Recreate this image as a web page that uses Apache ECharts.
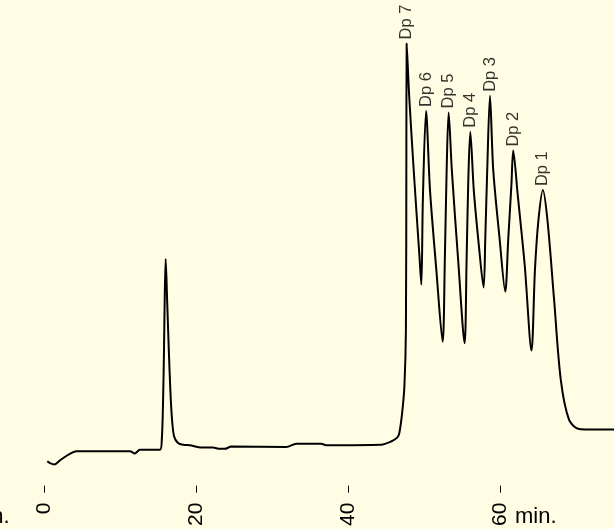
<!DOCTYPE html>
<html>
<head>
<meta charset="utf-8">
<script src="https://cdn.jsdelivr.net/npm/echarts@6/dist/echarts.min.js"></script>
<style>
html,body{margin:0;padding:0;background:#FFFDE4;}
#chart{width:614px;height:529px;}
</style>
</head>
<body>
<div id="chart"></div>
<script>
// retention time (min)
var times = [0.43,0.79,1.35,2.10,2.98,3.85,4.30,11.30,11.95,12.61,15.24,15.50,15.67,15.79,15.88,16.01,16.20,16.42,16.64,16.85,17.12,17.63,18.30,19.18,20.71,22.24,23.12,23.78,24.66,31.88,33.19,36.48,37.13,44.36,45.67,46.50,46.76,47.12,47.42,47.62,47.68,47.72,48.08,48.73,49.39,49.65,
49.85,50.27,50.79,51.62,52.45,
52.74,52.98,53.24,53.66,54.51,55.34,
55.60,55.83,56.09,56.55,57.21,57.84,
58.06,58.32,58.68,59.11,59.96,60.69,
61.08,61.50,61.74,62.33,63.25,64.14,
64.60,65.06,65.64,66.24,67.12,68.00,69.09,70.40,71.71,75.00];
// detector signal (arbitrary units)
var signal = [5.3,4.9,4.6,5.5,6.5,7.3,7.5,7.5,7.0,7.8,7.8,10.0,18.7,29.6,40.4,49.3,40.4,29.6,20.2,14.3,10.7,9.3,8.9,8.8,8.3,8.3,8.0,8.0,8.5,8.4,9.1,9.1,8.8,8.9,9.6,10.5,11.5,15.8,21.6,33.9,73.0,96.2,83.9,66.5,50.2,43.7,
62.2,81.5,64.3,47.0,31.3,
49.1,68.7,81.2,68.7,48.7,31.0,
48.7,66.5,77.0,64.3,52.4,43.1,
53.5,68.7,84.8,68.7,53.5,42.2,
53.5,65.4,72.9,63.3,48.0,29.4,
47.0,57.8,64.3,57.8,40.4,23.0,14.3,12.3,12.2,12.2];
// labelled peaks
var peakNames = ['Dp 7','Dp 6','Dp 5','Dp 4','Dp 3','Dp 2','Dp 1'];
var peakTimes = [47.72,50.27,53.24,56.09,58.68,61.74,65.64];
var peakValues = [96.2,81.5,81.2,77.0,84.8,72.9,64.3];
var xTicks = [0,20,40,60];
var unitLabel = 'min.';

var lineData = times.map(function(t,i){return [t, signal[i]];});
var peakData = peakTimes.map(function(t,i){return {name: peakNames[i], value:[t, peakValues[i]]};});

var chart = echarts.init(document.getElementById('chart'), null, {renderer:'canvas'});
chart.setOption({
  backgroundColor: '#FFFDE4',
  animation: false,
  grid: {left: 44, top: 26, width: 571, height: 460, containLabel: false},
  xAxis: {
    type: 'value', min: 0, max: 75, interval: 20,
    axisLine: {show: false},
    axisTick: {show: true, length: 7, lineStyle: {color: '#000', width: 1}},
    axisLabel: {show: true, rotate: 90, margin: 17, fontSize: 21, color: '#000',
      fontFamily: 'Liberation Sans, Arial, sans-serif', showMaxLabel: false,
      formatter: function(v){ return xTicks.indexOf(v) >= 0 ? String(v) : ''; }},
    splitLine: {show: false}
  },
  yAxis: {type: 'value', min: 0, max: 100, show: false, splitLine: {show: false}},
  graphic: [
    {type: 'text', left: 515, top: 506, style: {text: unitLabel, fontSize: 22, fontFamily: 'Liberation Sans, Arial, sans-serif', fill: '#000'}},
    {type: 'text', x: 9.5, y: 506, style: {text: unitLabel, align: 'right', verticalAlign: 'top', fontSize: 22, fontFamily: 'Liberation Sans, Arial, sans-serif', fill: '#000'}}
  ],
  series: [
    {
      type: 'line', data: lineData, showSymbol: false, symbol: 'none',
      smooth: 0.3,
      lineStyle: {color: '#000', width: 2}
    },
    {
      type: 'scatter', data: peakData, symbolSize: 0,
      label: {show: true, formatter: '{b}', position: 'top', distance: 4, rotate: 90,
        align: 'left', verticalAlign: 'middle',
        fontSize: 16.5, color: '#000', fontFamily: 'Liberation Sans, Arial, sans-serif'}
    }
  ]
});
</script>
</body>
</html>
